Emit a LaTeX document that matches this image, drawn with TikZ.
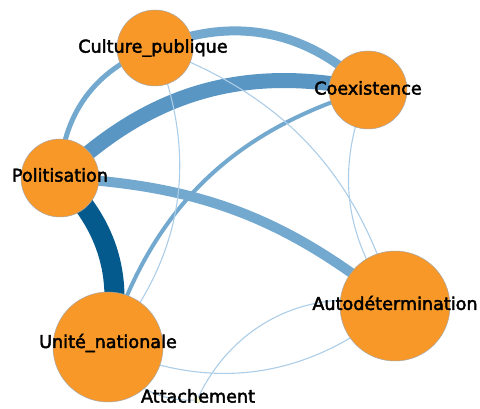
\documentclass[tikz,border=0pt]{standalone}
\usepackage{fontspec}
\setmainfont{DejaVu Sans}[BoldFont=DejaVu Sans, BoldFeatures={FakeBold=2.4}]
\usetikzlibrary{positioning,backgrounds}
\definecolor{nodeorange}{RGB}{248,152,40}
\definecolor{strongblue}{RGB}{4,90,141}
\definecolor{midblue}{RGB}{90,150,196}
\definecolor{lightblue}{RGB}{116,169,207}
\definecolor{faintblue}{RGB}{172,205,231}
\tikzset{
  vertex/.style={circle, fill=nodeorange, draw=gray!70, line width=0.5pt, inner sep=0pt},
  vlabel/.style={font=\fontsize{17.6}{20}\selectfont\bfseries, text=black, inner sep=0pt},
  link/.style={line cap=butt},
  thinlink/.style={faintblue, line width=1.1pt},
}

\begin{document}
\begin{tikzpicture}[x=1pt, y=-1pt]
  \useasboundingbox (0,0) rectangle (480,409);
  % vertices
  \node[vertex, minimum size=76pt] (cul) at (155,48) {};
  \node[vertex, minimum size=78pt] (coe) at (368,90) {};
  \node[vertex, minimum size=78pt] (pol) at (60,178) {};
  \node[vertex, minimum size=110pt] (uni) at (108,347) {};
  \node[vertex, minimum size=110pt] (aut) at (395,306) {};
  \node[circle, minimum size=6pt, inner sep=0pt, fill={rgb,255:red,250;green,248;blue,210},
    draw={rgb,255:red,215;green,225;blue,170}, line width=0.5pt] (att) at (197,400) {};
  % links
  \begin{pgfonlayer}{background}
    \draw[link, strongblue, line width=20pt] (pol.center) to[bend left=30] (uni.center);
    \draw[link, midblue, line width=15pt] (pol.center) to[bend left=28] (coe.center);
    \draw[link, lightblue, line width=10pt] (pol.center) to[bend left=18] (aut.center);
    \draw[link, lightblue, line width=9pt] (cul.center) to[bend left=34] (coe.center);
    \draw[link, lightblue, line width=5pt] (pol.center) to[bend left=35] (cul.center);
    \draw[link, lightblue, line width=4pt] (coe.center) to[bend right=28] (uni.center);
    \foreach \a/\b/\ang in {cul/uni/31, cul/aut/27, coe/aut/-30, uni/aut/-32, att/aut/40, uni/att/-34}
      \draw[thinlink] (\a.center) to[bend left=\ang] (\b.center);
  \end{pgfonlayer}
  % labels
  \node[vlabel] (cul-l) at ([xshift=-2pt]cul) {Culture\_publique};
  \node[vlabel] (coe-l) at ([yshift=2pt]coe) {Coexistence};
  \node[vlabel] (pol-l) at ([yshift=3pt]pol) {Politisation};
  \node[vlabel] (uni-l) at ([yshift=4pt]uni) {Unité\_nationale};
  \node[vlabel] (aut-l) at ([yshift=3pt]aut) {Autodétermination};
  \node[vlabel] (att-l) at ([xshift=1pt,yshift=4pt]att) {Attachement};
\end{tikzpicture}
\end{document}
